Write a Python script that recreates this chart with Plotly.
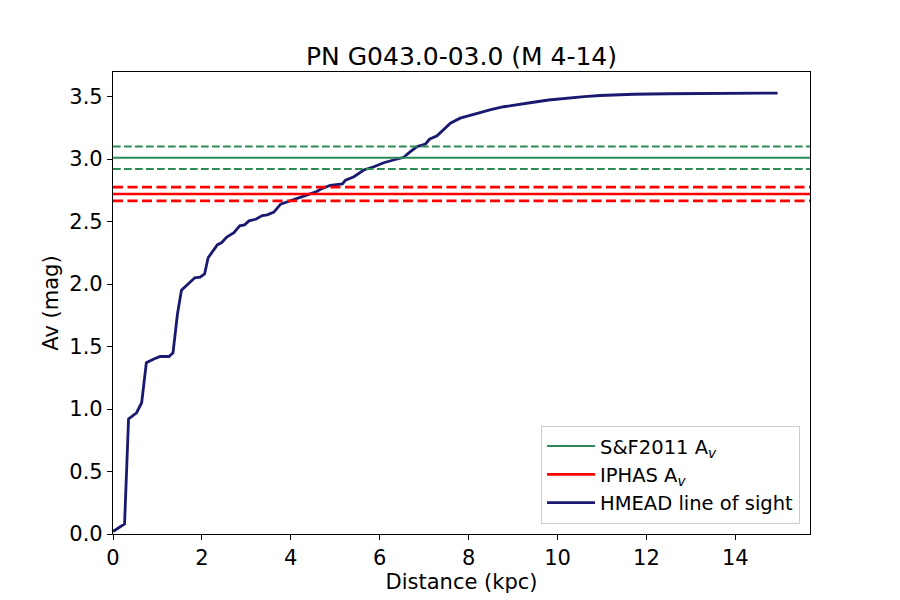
import plotly.graph_objects as go

# line-of-sight extinction (HMEAD)
distance = [0.0, 0.26, 0.35, 0.53, 0.645, 0.75, 0.92, 1.06, 1.26, 1.35, 1.45, 1.54,
            1.66, 1.84, 1.96, 2.06, 2.14, 2.2, 2.35, 2.44, 2.56, 2.72, 2.85, 2.96,
            3.06, 3.21, 3.36, 3.47, 3.62, 3.77, 3.96, 4.22, 4.40, 4.55, 4.71, 4.89,
            5.16, 5.23, 5.42, 5.64, 5.87, 6.09, 6.31, 6.54, 6.69, 6.84, 7.03, 7.12,
            7.29, 7.59, 7.81, 8.05, 8.26, 8.5, 8.79, 9.1, 9.42, 9.8, 10.21, 10.6,
            10.96, 11.71, 12.5, 13.2, 14.95]
av = [0.02, 0.08, 0.92, 0.97, 1.05, 1.37, 1.40, 1.42, 1.42, 1.45, 1.76, 1.95,
      1.99, 2.05, 2.055, 2.08, 2.21, 2.24, 2.315, 2.33, 2.376, 2.41, 2.465, 2.473,
      2.505, 2.518, 2.548, 2.553, 2.575, 2.639, 2.663, 2.698, 2.717, 2.735, 2.765, 2.79,
      2.80, 2.83, 2.858, 2.912, 2.938, 2.97, 2.992, 3.014, 3.059, 3.099, 3.12, 3.158,
      3.185, 3.287, 3.327, 3.352, 3.372, 3.395, 3.418, 3.437, 3.452, 3.472, 3.488, 3.499,
      3.508, 3.518, 3.522, 3.524, 3.527]

# S&F2011 and IPHAS values (value, lower, upper)
sf_av = 3.01
sf_err = [2.92, 3.10]
iphas_av = 2.72
iphas_err = [2.665, 2.775]

xticks = [0, 2, 4, 6, 8, 10, 12, 14]

green = "#2E8B57"
red = "#FF0000"
navy = "#191970"

fig = go.Figure()

# legend entries for the horizontal lines
fig.add_trace(go.Scatter(x=[None], y=[None], mode="lines", name="S&F2011 A<sub><i>v</i></sub>",
                         line=dict(color=green, width=2)))
fig.add_trace(go.Scatter(x=[None], y=[None], mode="lines", name="IPHAS A<sub><i>v</i></sub>",
                         line=dict(color=red, width=2.7)))
fig.add_trace(go.Scatter(x=distance, y=av, mode="lines", name="HMEAD line of sight",
                         line=dict(color=navy, width=2.8)))

fig.add_hline(y=sf_av, line=dict(color=green, width=2))
for v in sf_err:
    fig.add_hline(y=v, line=dict(color=green, width=2, dash="7.7px,3.3px"))
fig.add_hline(y=iphas_av, line=dict(color=red, width=2.7))
for v in iphas_err:
    fig.add_hline(y=v, line=dict(color=red, width=2.7, dash="10px,4.5px"))

axis_style = dict(showgrid=False, zeroline=False, showline=True, linecolor="black",
                  linewidth=1.2, mirror=True, ticks="outside", ticklen=5, tickwidth=1.2,
                  tickcolor="black", tickfont=dict(size=21, color="black"))

fig.update_xaxes(range=[0, 15.68], tickvals=xticks,
                 title=dict(text="Distance (kpc)", font=dict(size=21, color="black"), standoff=3),
                 **axis_style)
fig.update_yaxes(range=[0, 3.696], dtick=0.5, tickformat=".1f",
                 title=dict(text="Av (mag)", font=dict(size=21, color="black"), standoff=4),
                 **axis_style)

# page has an 8px body margin, so margins are shifted to keep the plot area in place
fig.update_layout(
    width=900, height=600,
    margin=dict(l=105, r=98, t=64, b=74),
    plot_bgcolor="white", paper_bgcolor="white",
    font=dict(family="DejaVu Sans", color="black"),
    title=dict(text="PN G043.0-03.0 (M 4-14)", x=0.5, xref="paper", xanchor="center",
               y=0.92, yanchor="middle", font=dict(size=25, color="black")),
    legend=dict(x=0.9857, y=0.022, xanchor="right", yanchor="bottom",
                bgcolor="rgba(255,255,255,0.8)", bordercolor="#cccccc", borderwidth=1,
                font=dict(size=19.5, color="black"), tracegroupgap=3, itemwidth=48),
)

fig.write_html("out.html")
